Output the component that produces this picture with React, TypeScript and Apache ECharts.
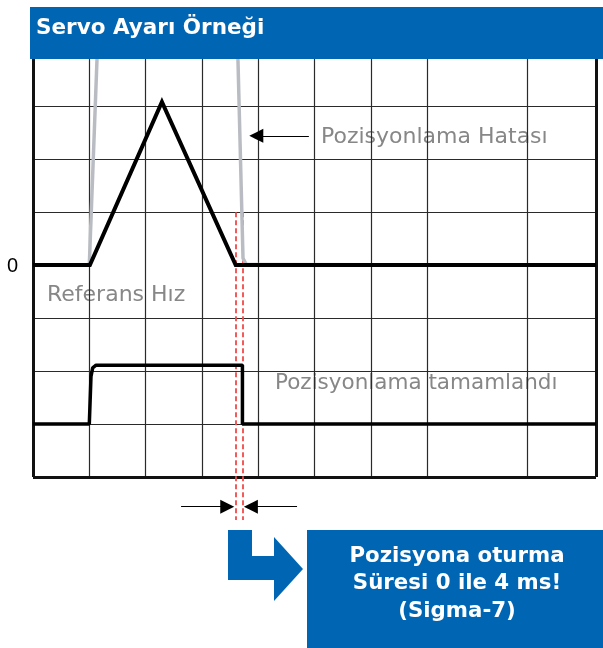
import React, { useEffect, useRef } from 'react';
import * as echarts from 'echarts';

// grid layout in chart units (x: time divisions, y: amplitude divisions)
const xGridLines = [1, 2, 3, 4, 5, 6, 7, 8.78];
const yGridLines = [-3, -2, -1, 1, 2, 3];
const frameLeft = 0;
const frameRight = 10;
const frameBottom = -4;
const frameTop = 3.9;

// signals
const referenceSpeed = [[0, 0], [1.01, 0], [2.29, 3.08], [3.6, 0], [10, 0]];
const positionError = [[1.0, 0], [1.155, 4.4], [3.628, 4.4], [3.73, 0.13], [3.79, 0.01], [10, 0]];
const positioningComplete = [[0, -3], [1.0, -3], [1.03, -2.1], [1.06, -1.94], [1.12, -1.89], [3.72, -1.89], [3.72, -3], [10, -3]];

// settling window markers
const settlingEdges = [3.6, 3.72];
const settlingTop = 1;
const settlingBottom = -4.81;
const dimensionY = -4.56;
const dimensionLeft = [2.63, 3.45];
const dimensionRight = [4.69, 3.87];
const errorArrowY = 2.44;
const errorArrow = [4.9, 3.966];

const titleText = 'Servo Ayarı Örneği';
const labelReference = 'Referans Hız';
const labelError = 'Pozisyonlama Hatası';
const labelComplete = 'Pozisyonlama tamamlandı';
const boxLines = ['Pozisyona oturma', 'Süresi 0 ile 4 ms!', '(Sigma-7)'];

const BLUE = '#0066b3';
const GRAY_TEXT = '#878787';
const FONT = '"DejaVu Sans", "Liberation Sans", sans-serif';

export default function App() {
  const ref = useRef<HTMLDivElement>(null);
  useEffect(() => {
    document.body.style.margin = '0';
    const chart = echarts.init(ref.current!, null, { renderer: 'svg' });
    const seg = (a: number[], b: number[]) => [{ coord: a }, { coord: b }];
    chart.setOption({
      animation: false,
      grid: { left: 33, right: 7, top: 58.5, bottom: 118 },
      xAxis: {
        type: 'value', min: 0, max: 10,
        axisLine: { show: false }, axisTick: { show: false }, axisLabel: { show: false }, splitLine: { show: false },
      },
      yAxis: {
        type: 'value', min: -5, max: 3.9, interval: 1,
        axisLine: { show: false }, axisTick: { show: false }, splitLine: { show: false },
        axisLabel: {
          margin: 15, color: '#000', fontSize: 20, fontFamily: '"Liberation Sans", sans-serif',
          formatter: (v: number) => (Math.abs(v) < 1e-9 ? '0' : ''),
        },
      },
      series: [
        {
          type: 'line', data: [], z: 1, silent: true,
          markLine: {
            silent: true, symbol: ['none', 'none'], animation: false,
            label: { show: false },
            lineStyle: { color: '#2a2a2a', width: 1.2, type: 'solid' },
            data: [
              ...xGridLines.map((x) => seg([x, frameBottom], [x, frameTop])),
              ...yGridLines.map((y) => seg([frameLeft, y], [frameRight, y])),
            ],
          },
        },
        {
          type: 'line', data: [], z: 8, silent: true,
          markLine: {
            silent: true, symbol: ['none', 'none'], animation: false,
            label: { show: false },
            lineStyle: { color: '#111', width: 3, type: 'solid' },
            data: [
              seg([frameLeft, frameBottom], [frameLeft, frameTop]),
              seg([frameRight, frameBottom], [frameRight, frameTop]),
              seg([frameLeft, frameBottom], [frameRight, frameBottom]),
            ],
          },
        },
        {
          name: 'Pozisyonlama Hatası', type: 'line', data: positionError, z: 5, clip: true,
          showSymbol: false, lineStyle: { color: '#b9bdc3', width: 3.5 }, itemStyle: { color: '#b9bdc3' },
        },
        {
          name: 'Referans Hız', type: 'line', data: referenceSpeed, z: 6, clip: true,
          showSymbol: false, lineStyle: { color: '#000', width: 4, join: 'miter' }, itemStyle: { color: '#000' },
        },
        {
          name: 'Pozisyonlama tamamlandı', type: 'line', data: positioningComplete, z: 6, clip: true,
          showSymbol: false, lineStyle: { color: '#000', width: 3.5 }, itemStyle: { color: '#000' },
        },
        {
          type: 'line', data: [], z: 9, silent: true,
          markLine: {
            silent: true, symbol: ['none', 'none'], animation: false,
            label: { show: false },
            lineStyle: { color: '#f24a4a', width: 1.8, type: [5, 3] },
            data: settlingEdges.map((x) => seg([x, settlingTop], [x, settlingBottom])),
          },
        },
        {
          type: 'line', data: [], z: 9, silent: true,
          markLine: {
            silent: true, symbol: ['none', 'triangle'], symbolSize: [14, 14], animation: false,
            label: { show: false },
            lineStyle: { color: '#000', width: 1.2, type: 'solid' },
            data: [
              seg([errorArrow[0], errorArrowY], [errorArrow[1], errorArrowY]),
            ],
          },
        },
        {
          type: 'line', data: [], z: 9, silent: true,
          markLine: {
            silent: true, symbol: ['none', 'triangle'], symbolSize: [14, 14], animation: false,
            label: { show: false },
            lineStyle: { color: '#000', width: 1, type: 'solid' },
            data: [
              seg([dimensionLeft[0], dimensionY], [dimensionLeft[1], dimensionY]),
              seg([dimensionRight[0], dimensionY], [dimensionRight[1], dimensionY]),
            ],
          },
        },
      ],
      graphic: [
        { type: 'rect', z: 100, shape: { x: 30, y: 7, width: 573, height: 52 }, style: { fill: BLUE } },
        {
          type: 'text', z: 101, x: 36, y: 26,
          style: { text: titleText, fill: '#fff', font: `bold 21.5px ${FONT}`, textAlign: 'left', textVerticalAlign: 'middle' },
        },
        { type: 'rect', z: 4, shape: { x: 36, y: 270, width: 178, height: 46 }, style: { fill: '#fff' } },
        { type: 'rect', z: 4, shape: { x: 311, y: 116, width: 260, height: 42 }, style: { fill: '#fff' } },
        { type: 'rect', z: 4, shape: { x: 267, y: 362, width: 314, height: 43 }, style: { fill: '#fff' } },
        {
          type: 'text', z: 5, x: 47, y: 293,
          style: { text: labelReference, fill: GRAY_TEXT, font: `22px ${FONT}`, textAlign: 'left', textVerticalAlign: 'middle' },
        },
        {
          type: 'text', z: 5, x: 321, y: 135,
          style: { text: labelError, fill: GRAY_TEXT, font: `22px ${FONT}`, textAlign: 'left', textVerticalAlign: 'middle' },
        },
        {
          type: 'text', z: 5, x: 275, y: 381,
          style: { text: labelComplete, fill: GRAY_TEXT, font: `21.5px ${FONT}`, textAlign: 'left', textVerticalAlign: 'middle' },
        },
        {
          type: 'polygon', z: 10,
          shape: { points: [[228, 530], [252, 530], [252, 556], [274, 556], [274, 537], [303, 569], [274, 601], [274, 580], [228, 580]] },
          style: { fill: BLUE },
        },
        { type: 'rect', z: 10, shape: { x: 307, y: 530, width: 296, height: 118 }, style: { fill: BLUE } },
        ...boxLines.map((t, i) => ({
          type: 'text', z: 11, x: 457, y: 554 + i * 27.5,
          style: { text: t, fill: '#fff', font: `bold 21.3px ${FONT}`, textAlign: 'center', textVerticalAlign: 'middle' },
        })),
      ],
    });
    return () => chart.dispose();
  }, []);
  return <div ref={ref} style={{ position: 'fixed', left: 0, top: 0, width: 603, height: 648 }} />;
}
